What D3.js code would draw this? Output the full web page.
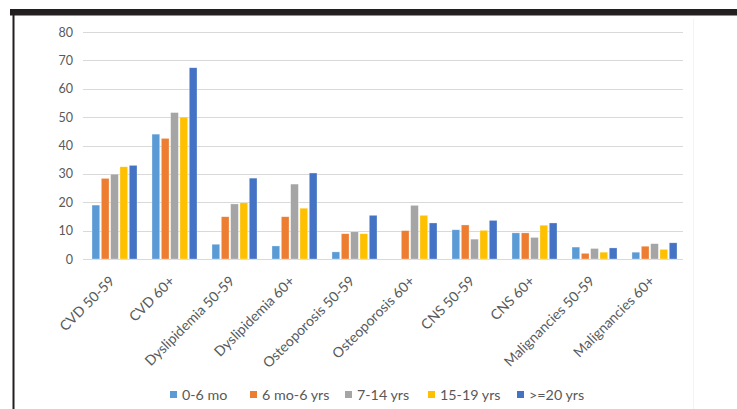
<!DOCTYPE html>
<html><head><meta charset="utf-8">
<script src="https://cdn.jsdelivr.net/npm/d3@7"></script>
<style>body{margin:0;background:#fff;}svg{display:block;}</style>
</head><body>
<script>
const categories = ["CVD 50-59","CVD 60+","Dyslipidemia 50-59","Dyslipidemia 60+","Osteoporosis 50-59","Osteoporosis 60+","CNS 50-59","CNS 60+","Malignancies 50-59","Malignancies 60+"];
const seriesNames = ["0-6 mo","6 mo-6 yrs","7-14 yrs","15-19 yrs",">=20 yrs"];
const s0 = [19.0,44.0,5.2,4.6,2.5,0,10.3,9.2,4.2,2.4];
const s1 = [28.4,42.5,14.9,14.9,8.9,10.0,12.0,9.2,2.0,4.5];
const s2 = [29.9,51.6,19.4,26.4,9.6,18.9,7.0,7.6,3.7,5.4];
const s3 = [32.5,50.0,19.8,17.9,8.9,15.4,10.1,11.9,2.4,3.4];
const s4 = [33.0,67.4,28.5,30.3,15.4,12.7,13.6,12.7,3.9,5.7];
const yTicks = [0,10,20,30,40,50,60,70,80];
const colors = ["#5B9BD5","#ED7D31","#A5A5A5","#FFC000","#4472C4"];
const seriesValues = [s0,s1,s2,s3,s4];

const W = 737, H = 409;
const FONT = "Lato, 'Open Sans', sans-serif";
const svg = d3.select("body").append("svg").attr("width", W).attr("height", H);

// frame decorations
svg.append("rect").attr("x",10).attr("y",9).attr("width",W-10).attr("height",6.5).attr("fill","#231f20");
svg.append("rect").attr("x",12.5).attr("y",9).attr("width",2).attr("height",H-9).attr("fill","#231f20");
svg.append("line").attr("x1",693.5).attr("x2",693.5).attr("y1",19).attr("y2",H).attr("stroke","#f3f3f3");

const x0 = d3.scaleBand().domain(categories).range([84.5, 684.5]).paddingInner(0.25).paddingOuter(0.125);
const x1 = d3.scaleBand().domain(seriesNames).range([0, x0.bandwidth()]).paddingInner(0.17);
const y = d3.scaleLinear().domain([0,80]).range([259, 32]);

// gridlines
svg.append("g").selectAll("line").data(yTicks).join("line")
  .attr("x1", 83).attr("x2", 683)
  .attr("y1", d => Math.round(y(d))+0.5).attr("y2", d => Math.round(y(d))+0.5)
  .attr("stroke", "#d9d9d9").attr("stroke-width", 1);

// y axis labels
const yAxis = d3.axisLeft(y).tickValues(yTicks).tickSize(0).tickPadding(0);
const ya = svg.append("g").attr("transform","translate(73,0)").call(yAxis);
ya.select(".domain").remove();
ya.selectAll("text").attr("font-family",FONT).attr("font-size",12.5).attr("fill","#595959");

// bars
const data = categories.map((c,i) => ({cat:c, vals: seriesNames.map((s,j)=>({s, v: seriesValues[j][i], j}))}));
svg.append("g").selectAll("g").data(data).join("g")
  .attr("transform", d => `translate(${x0(d.cat)},0)`)
  .selectAll("rect").data(d => d.vals.filter(v => v.v > 0)).join("rect")
  .attr("x", d => x1(d.s)).attr("width", x1.bandwidth())
  .attr("y", d => y(d.v)).attr("height", d => y(0) - y(d.v))
  .attr("fill", d => colors[d.j]).attr("stroke","#ffffff").attr("stroke-opacity",0.5).attr("stroke-width",0.6);

// x labels
const xa = svg.append("g").attr("transform","translate(0,259)").call(d3.axisBottom(x0).tickSize(0).tickPadding(0));
xa.select(".domain").remove();
xa.selectAll("text")
  .attr("font-family",FONT).attr("font-size",14).attr("fill","#595959")
  .attr("text-anchor","end").attr("dy",0)
  .attr("transform","translate(1,23) rotate(-45)");

// legend
const legX = [170,250,345,428,517];
const leg = svg.append("g").selectAll("g").data(seriesNames).join("g")
  .attr("transform",(d,i)=>`translate(${legX[i]},395)`);
leg.append("rect").attr("x",0).attr("y",-4).attr("width",7).attr("height",7).attr("fill",(d,i)=>colors[i]);
leg.append("text").attr("x",12).attr("y",0).attr("dy","0.35em")
  .attr("font-family",FONT).attr("font-size",14.3).attr("fill","#595959").text(d=>d);
</script>
</body></html>
